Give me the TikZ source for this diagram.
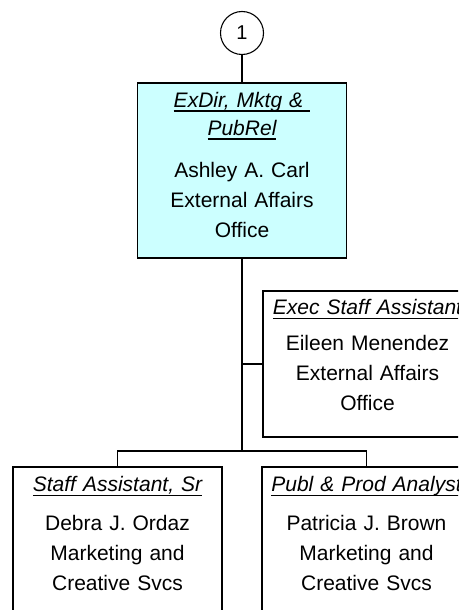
\documentclass[tikz,border=0pt]{standalone}
\usepackage{fontspec}
\setmainfont{Liberation Sans}
\usepackage{xcolor}
\usepackage{tikz}
\usetikzlibrary{positioning, calc}
\definecolor{boxcyan}{HTML}{CCFFFF}
\tikzstyle{unitbox} = [rectangle, draw=black, line width=1.4pt, minimum width=209pt, minimum height=146pt, inner sep=0pt]
\tikzstyle{unittext} = [anchor=north, inner sep=0pt, text width=205pt, align=center, font=\fontsize{21}{30}\selectfont]
\tikzstyle{link} = [line width=1.4pt]
\newcommand{\jobtitle}[1]{\textit{\setbox0\hbox{#1}\rlap{\rule[-4.5pt]{\wd0}{1.6pt}}\box0}}

\begin{document}
\begin{tikzpicture}[x=1pt, y=-1pt]
\useasboundingbox (0,0) rectangle (458,610);
\clip (0,0) rectangle (458,610);
% Page connector
\node[circle, draw, line width=1.1pt, minimum size=43pt, inner sep=0pt, font=\fontsize{20}{24}\selectfont] (pageref) at (242,33) {1};

% Boxes
\node[unitbox, fill=boxcyan, minimum height=175pt] (exdir) at (242,170.5) {};
\node[unitbox] (execasst) at (367.5,364) {};
\node[unitbox, minimum height=175pt] (staffsr) at (117.5,554.5) {};
\node[unitbox, minimum height=175pt] (publanalyst) at (366.5,554.5) {};

% Texts
\node[unittext] (exdirtxt) at ([yshift=-9.5pt]exdir.north) {\jobtitle{ExDir, Mktg \&~}\\[-2pt]\jobtitle{PubRel}\\[12pt]Ashley A. Carl\\External Affairs\\Office};
\node[unittext] (execassttxt) at ([yshift=-9pt]execasst.north) {\jobtitle{Exec Staff Assistant}\\[6pt]Eileen Menendez\\External Affairs\\Office};
\node[unittext] (staffsrtxt) at ([yshift=-10pt]staffsr.north) {\jobtitle{Staff Assistant, Sr}\\[9pt]Debra J. Ordaz\\Marketing and\\Creative Svcs};
\node[unittext] (publanalysttxt) at ([yshift=-10pt]publanalyst.north) {\jobtitle{Publ \& Prod Analyst}\\[9pt]Patricia J. Brown\\Marketing and\\Creative Svcs};

% Connectors
\coordinate (bus) at (242,451);
\draw[link] (pageref) -- (exdir);
\draw[link] (exdir.south) -- (bus);
\draw[link] (execasst.west) -- (execasst.west -| bus);
\draw[link] (staffsr.north) |- (bus) -| (publanalyst.north);
\end{tikzpicture}
\end{document}
